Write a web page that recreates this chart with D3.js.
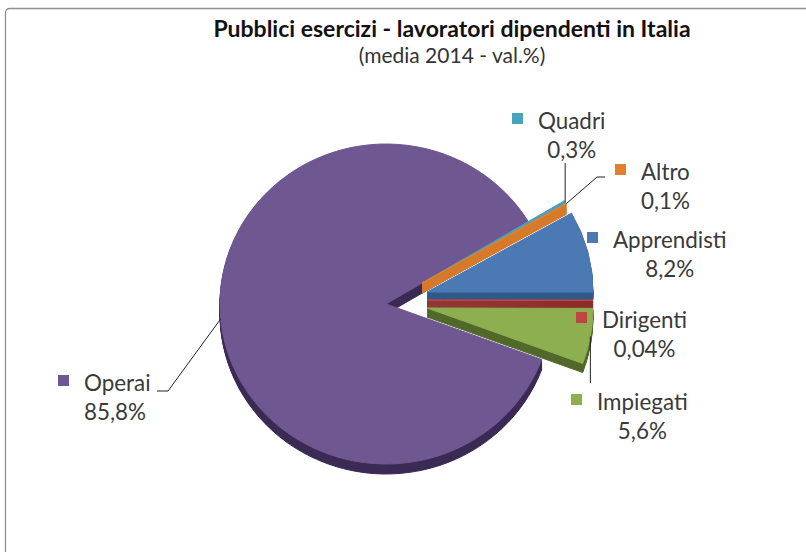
<!DOCTYPE html>
<html>
<head>
  <meta charset="utf-8">
  <title>Pubblici esercizi</title>
  <script src="https://cdn.jsdelivr.net/npm/d3@7"></script>
  <style>
    body { margin: 0; background: #fff; }
    text { font-family: Lato, "Open Sans", sans-serif; }
  </style>
</head>
<body>
<script>

  // slices in the clockwise order they are drawn
  var categories = ["Quadri", "Altro", "Apprendisti", "Dirigenti", "Impiegati", "Operai"];
  var values = [0.3, 0.1, 8.2, 0.04, 5.6, 85.8];

  var topColors  = ["#44A3BF", "#E0802F", "#4A79B3", "#BE4541", "#8DAF4F", "#6F5791"];
  var sideColors = ["#2F8AA4", "#D97A2B", "#2F5A8A", "#8C2B29", "#52692B", "#3B2B55"];

  var title = "Pubblici esercizi - lavoratori dipendenti in Italia";
  var subtitle = "(media 2014 - val.%)";

  var w = 806, h = 552;

  var svg = d3.select("body")
              .append("svg")
              .attr("width", w)
              .attr("height", h);

  // chart frame (cut off on the right and bottom)
  svg.append("rect")
     .attr("x", 5.5).attr("y", 8.5)
     .attr("width", 900).attr("height", 700)
     .attr("rx", 4)
     .attr("fill", "none")
     .attr("stroke", "#8f8f8f")
     .attr("stroke-width", 1.3);

  // titles
  svg.append("text")
     .attr("x", 452).attr("y", 37)
     .attr("text-anchor", "middle")
     .style("font-weight", "bold")
     .style("font-size", "23px")
     .attr("fill", "#111")
     .text(title);

  svg.append("text")
     .attr("x", 452).attr("y", 63)
     .attr("text-anchor", "middle")
     .style("font-size", "21px")
     .attr("fill", "#333")
     .text(subtitle);

  // pie: ellipse seen slightly from above
  var ry = 160, rx = 166;
  var total = d3.sum(values);
  // the first three slices sit above the horizontal on the right side
  var lead = (values[0] + values[1] + values[2]) / total * 2 * Math.PI;
  var start = Math.PI / 2 - lead;

  var pie = d3.pie().sort(null)
              .startAngle(start)
              .endAngle(start + 2 * Math.PI);

  var arc = d3.arc().innerRadius(0).outerRadius(ry);

  // exploded centre and thickness of each slice
  var explode = {
    Quadri:      {x: 422, y: 283, depth: 10},
    Altro:       {x: 422, y: 283, depth: 10},
    Apprendisti: {x: 427, y: 292, depth: 8},
    Dirigenti:   {x: 427, y: 300, depth: 8},
    Impiegati:   {x: 427, y: 308, depth: 9},
    Operai:      {x: 386, y: 304, depth: 10}
  };

  var slices = pie(values).map(function(d, i) {
    return {arc: d, name: categories[i], top: topColors[i], side: sideColors[i],
            pos: explode[categories[i]]};
  });

  // the big slice goes at the back
  var drawOrder = slices.slice(-1).concat(slices.slice(0, -1));

  var pieG = svg.append("g");

  drawOrder.forEach(function(s) {
    var layers = d3.range(s.pos.depth, -1, -1);
    pieG.append("g")
        .selectAll("path")
        .data(layers)
        .enter()
        .append("path")
        .attr("transform", function(k) {
            return "translate(" + s.pos.x + "," + (s.pos.y + k) + ") scale(" + (rx / ry) + ",1)";
        })
        .attr("d", arc(s.arc))
        .attr("fill", function(k) { return k === 0 ? s.top : s.side; })
        .attr("stroke", function(k) { return k === 0 ? s.top : s.side; })
        .attr("stroke-width", 1)
        .attr("stroke-linejoin", "round")
        .attr("vector-effect", "non-scaling-stroke");
  });

  // point on the rim at the middle of a slice
  function rimPoint(s) {
    var a = (s.arc.startAngle + s.arc.endAngle) / 2;
    return [s.pos.x + rx * Math.sin(a), s.pos.y - ry * Math.cos(a)];
  }

  // data labels: text start and baseline of the first line
  var labelPos = {
    Quadri:      {x: 538, y: 129},
    Altro:       {x: 641, y: 180},
    Apprendisti: {x: 613, y: 248},
    Dirigenti:   {x: 602, y: 328},
    Impiegati:   {x: 597, y: 410},
    Operai:      {x: 84,  y: 391}
  };

  // leader line elbows, after the rim point
  var leaders = {
    Quadri:    function(p) { return [p, [p[0], 163]]; },
    Altro:     function(p) { return [p, [597, 177], [605, 177]]; },
    Impiegati: function(p) { return [p, [p[0], 383]]; },
    Operai:    function(p) { return [p, [168, 391], [157, 391]]; }
  };

  var line = d3.line();

  slices.forEach(function(s) {
    if (leaders[s.name]) {
      svg.append("path")
         .attr("d", line(leaders[s.name](rimPoint(s))))
         .attr("fill", "none")
         .attr("stroke", "#222")
         .attr("stroke-width", 1);
    }
  });

  function fmt(v) {
    return String(v).replace(".", ",") + "%";
  }

  slices.forEach(function(s) {
    var p = labelPos[s.name];
    var g = svg.append("g");

    g.append("rect")
     .attr("x", p.x - 26).attr("y", p.y - 16)
     .attr("width", 11).attr("height", 11)
     .attr("fill", s.top);

    var name = g.append("text")
                .attr("x", p.x).attr("y", p.y)
                .style("font-size", "22.4px")
                .attr("fill", "#3a3a3a")
                .text(s.name);

    var tw = name.node().getComputedTextLength();

    g.append("text")
     .attr("x", s.name === "Operai" ? p.x : p.x + tw / 2)
     .attr("y", p.y + 29)
     .attr("text-anchor", s.name === "Operai" ? "start" : "middle")
     .style("font-size", "22.4px")
     .attr("fill", "#3a3a3a")
     .text(fmt(s.arc.data));
  });

</script>
</body>
</html>
